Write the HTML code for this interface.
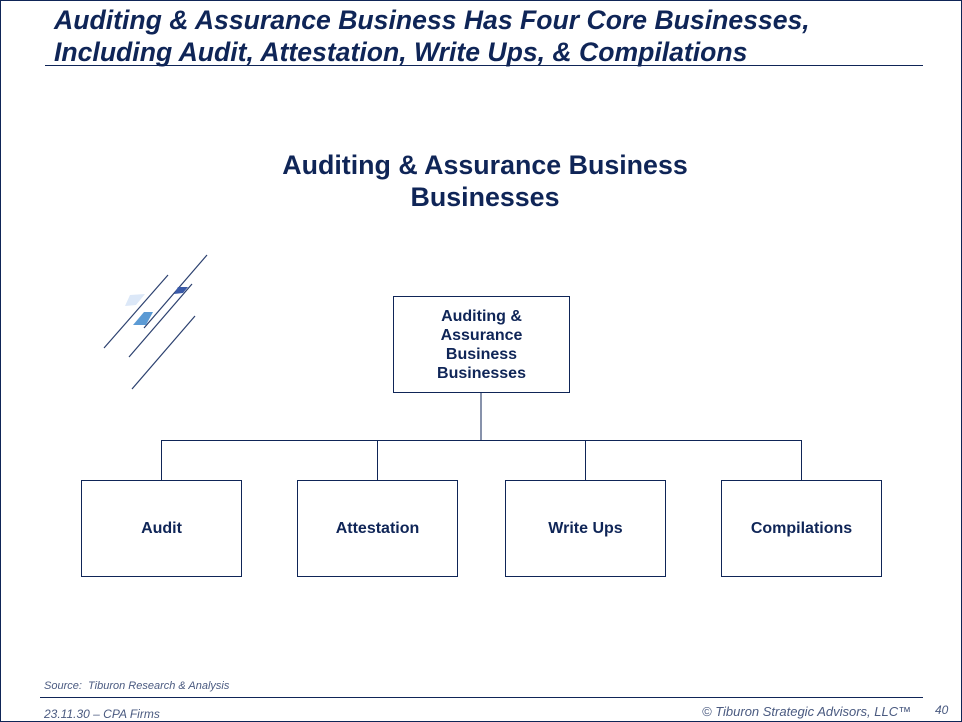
<!DOCTYPE html>
<html><head><meta charset="utf-8"><style>
body{margin:0;width:962px;height:722px;position:relative;background:#fff;font-family:"Liberation Sans",sans-serif;color:#0f2557;overflow:hidden}
.frame{position:absolute;left:0;top:0;width:960px;height:720px;border:1px solid #0f2557}
.t{position:absolute;left:54px;font-weight:bold;font-style:italic;font-size:27px;white-space:nowrap;transform-origin:0 0;transform:scaleX(0.985)}
.box{position:absolute;border:1px solid #0f2557;background:#fff;display:flex;align-items:center;justify-content:center;text-align:center;font-weight:bold;font-size:16px;color:#0f2557;box-sizing:border-box}
.h{position:absolute;background:#0f2557}
.s{position:absolute;font-style:italic;font-size:11px;color:#4a5a80}
</style></head><body>
<div class="frame"></div>
<div class="t" style="top:5px">Auditing &amp; Assurance Business Has Four Core Businesses,</div>
<div class="t" style="top:37px">Including Audit, Attestation, Write Ups, &amp; Compilations</div>
<div class="h" style="left:45px;top:65px;width:878px;height:1px"></div>
<div style="position:absolute;left:0;width:970px;top:149px;text-align:center;font-weight:bold;font-size:26.8px;line-height:32px">Auditing &amp; Assurance Business<br>Businesses</div>
<svg style="position:absolute;left:0;top:0" width="962" height="722">
<g stroke="#2a3f6e" stroke-width="1.2">
<line x1="104" y1="348" x2="168" y2="275"/><line x1="144" y1="328" x2="207" y2="255"/>
<line x1="129" y1="357" x2="192" y2="284"/><line x1="132" y1="389" x2="195" y2="316"/>
</g>
<polygon points="130,295 145,294 136,305 125,306" fill="#dce8f8"/>
<polygon points="144,312 153,312 146,325 133,325" fill="#5b9ad4"/>
<polygon points="178,287 188,287 183,293 174,294" fill="#3a5aa8"/>
<g stroke="#0f2557" stroke-width="1">
<line x1="481" y1="392" x2="481" y2="440"/><line x1="161" y1="440.5" x2="801" y2="440.5"/>
<line x1="161.5" y1="440" x2="161.5" y2="480"/><line x1="377.5" y1="440" x2="377.5" y2="480"/>
<line x1="585.5" y1="440" x2="585.5" y2="480"/><line x1="801.5" y1="440" x2="801.5" y2="480"/>
</g>
</svg>
<div class="box" style="left:393px;top:296px;width:177px;height:97px;line-height:19px">Auditing &amp;<br>Assurance<br>Business<br>Businesses</div>
<div class="box" style="left:81px;top:480px;width:161px;height:97px">Audit</div>
<div class="box" style="left:297px;top:480px;width:161px;height:97px">Attestation</div>
<div class="box" style="left:505px;top:480px;width:161px;height:97px">Write Ups</div>
<div class="box" style="left:721px;top:480px;width:161px;height:97px">Compilations</div>
<div class="s" style="left:44px;top:680px">Source:&nbsp; Tiburon Research &amp; Analysis</div>
<div class="h" style="left:40px;top:697px;width:883px;height:1px"></div>
<div class="s" style="left:44px;top:707px;font-size:12px">23.11.30 – CPA Firms</div>
<div class="s" style="left:702px;top:704px;font-size:13px">© Tiburon Strategic Advisors, LLC™</div>
<div class="s" style="left:935px;top:703px;font-size:12px">40</div>
</body></html>
